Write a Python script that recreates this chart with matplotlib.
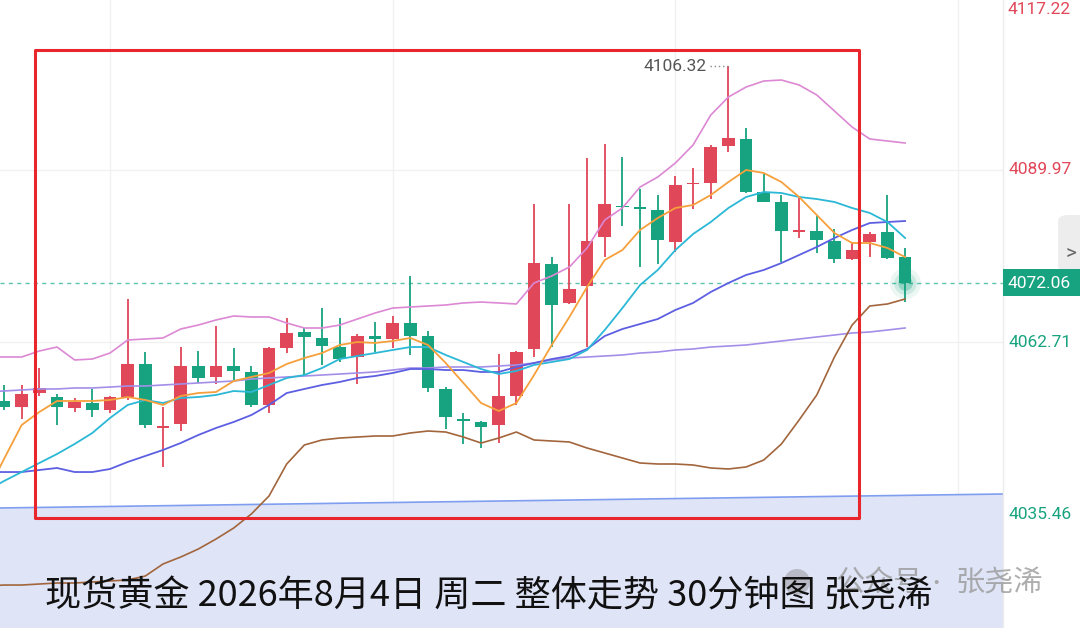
import numpy as np
import matplotlib
matplotlib.use("Agg")
import matplotlib.pyplot as plt
from matplotlib.patches import Rectangle, FancyBboxPatch, Ellipse
from matplotlib.transforms import blended_transform_factory

plt.rcParams['font.family'] = ['Roboto', 'Noto Sans CJK SC', 'DejaVu Sans']

# 30分钟K线: 开 高 低 收
opens = [4053.39, 4052.44, 4054.65, 4054.02, 4052.28, 4053.07, 4051.96, 4054.02, 4059.24, 4049.12,
         4049.75, 4058.93, 4057.19, 4058.93, 4057.98, 4052.76, 4061.78, 4064.31, 4063.36, 4061.93,
         4060.35, 4063.67, 4063.20, 4065.73, 4063.67, 4055.29, 4050.54, 4050.07, 4049.59, 4054.18,
         4061.62, 4075.07, 4068.90, 4071.59, 4079.34, 4084.24, 4084.09, 4083.61, 4078.55, 4087.72,
         4087.88, 4093.74, 4094.85, 4086.46, 4084.88, 4080.13, 4080.29, 4078.71, 4075.86, 4078.55,
         4080.13, 4076.17]
highs = [4055.92, 4055.92, 4058.61, 4054.50, 4053.86, 4055.29, 4054.18, 4069.53, 4061.14, 4052.44,
         4061.93, 4061.30, 4065.26, 4061.78, 4058.93, 4061.90, 4066.52, 4064.94, 4068.10, 4066.52,
         4063.99, 4065.89, 4066.84, 4073.17, 4064.46, 4055.60, 4051.49, 4050.20, 4060.83, 4061.30,
         4084.56, 4076.17, 4084.56, 4091.84, 4094.05, 4092.00, 4086.93, 4085.98, 4088.99, 4090.26,
         4093.90, 4106.32, 4096.59, 4089.31, 4085.98, 4085.51, 4082.66, 4080.60, 4078.55, 4080.13,
         4085.98, 4077.60]
lows = [4051.96, 4050.54, 4054.18, 4049.59, 4051.65, 4050.86, 4051.49, 4053.55, 4049.12, 4042.95,
        4048.64, 4056.24, 4056.08, 4056.71, 4052.44, 4051.49, 4060.98, 4057.50, 4059.09, 4059.56,
        4056.08, 4061.14, 4061.78, 4060.67, 4054.81, 4048.96, 4046.59, 4045.95, 4046.74, 4052.76,
        4060.35, 4061.93, 4068.80, 4061.93, 4076.17, 4081.08, 4074.59, 4075.07, 4076.97, 4083.77,
        4085.35, 4092.79, 4086.30, 4084.80, 4075.38, 4079.18, 4076.81, 4075.22, 4075.70, 4076.17,
        4075.90, 4069.05]
closes = [4052.44, 4054.50, 4055.45, 4052.44, 4053.23, 4051.96, 4054.02, 4059.24, 4049.59, 4049.43,
          4058.93, 4057.03, 4058.93, 4058.14, 4052.76, 4061.78, 4064.15, 4063.52, 4062.09, 4060.03,
          4063.67, 4063.20, 4065.73, 4063.67, 4055.45, 4050.86, 4050.22, 4049.27, 4054.18, 4061.14,
          4075.22, 4068.58, 4071.11, 4078.71, 4084.56, 4084.09, 4083.77, 4078.86, 4087.57, 4087.88,
          4093.58, 4095.00, 4086.46, 4084.88, 4080.29, 4080.45, 4078.86, 4075.86, 4077.28, 4079.81,
          4076.02, 4072.06]

# 均线 / 布林带 (第一个值是画面左边外的一根)
ma5 = [4038.67, 4044.21, 4049.59, 4051.65, 4053.39, 4053.39, 4053.39, 4053.55, 4054.02, 4053.55,
       4052.76, 4054.18, 4054.65, 4054.81, 4056.55, 4057.19, 4057.82, 4059.24, 4060.19, 4060.98,
       4062.25, 4062.72, 4062.57, 4062.88, 4063.36, 4062.25, 4059.40, 4056.24, 4053.07, 4051.81,
       4053.07, 4057.50, 4062.25, 4066.68, 4071.43, 4075.70, 4077.28, 4080.45, 4082.34, 4083.93,
       4084.40, 4085.98, 4088.04, 4089.94, 4089.47, 4088.04, 4085.67, 4082.82, 4079.97, 4078.39,
       4078.39, 4077.60, 4076.17]
ma10 = [4039.15, 4040.73, 4042.15, 4043.58, 4045.00, 4046.59, 4048.33, 4050.70, 4052.76, 4053.55,
        4053.07, 4053.86, 4054.02, 4054.34, 4054.97, 4054.81, 4055.92, 4057.03, 4057.50, 4058.61,
        4060.03, 4060.51, 4060.98, 4061.46, 4061.93, 4061.93, 4060.67, 4059.56, 4058.45, 4057.66,
        4058.14, 4059.09, 4059.56, 4060.03, 4061.46, 4064.62, 4068.10, 4071.74, 4074.12, 4077.28,
        4079.81, 4081.71, 4083.93, 4085.67, 4086.46, 4086.30, 4085.67, 4085.35, 4084.88, 4083.93,
        4083.14, 4081.71, 4079.18]
ma20 = [4042.15, 4042.15, 4042.15, 4042.47, 4042.79, 4042.15, 4042.15, 4042.63, 4043.74, 4044.69,
        4045.64, 4046.74, 4048.01, 4049.12, 4050.07, 4051.17, 4052.76, 4054.65, 4055.29, 4055.92,
        4056.40, 4057.03, 4057.34, 4057.82, 4058.45, 4058.45, 4058.29, 4058.29, 4057.98, 4057.98,
        4058.77, 4059.40, 4060.03, 4060.51, 4061.62, 4063.67, 4064.78, 4065.57, 4066.36, 4067.79,
        4068.90, 4070.64, 4072.06, 4073.33, 4074.12, 4075.22, 4076.49, 4077.76, 4079.18, 4080.45,
        4081.55, 4081.71, 4081.87]
ma60 = [4054.81, 4054.97, 4055.13, 4055.29, 4055.29, 4055.45, 4055.45, 4055.60, 4055.76, 4055.76,
        4055.92, 4056.08, 4056.24, 4056.40, 4056.55, 4056.87, 4057.03, 4057.19, 4057.34, 4057.50,
        4057.66, 4057.82, 4057.98, 4058.29, 4058.61, 4058.61, 4058.77, 4058.77, 4058.77, 4058.93,
        4059.09, 4059.40, 4059.88, 4060.19, 4060.35, 4060.51, 4060.67, 4060.98, 4061.14, 4061.46,
        4061.62, 4061.93, 4062.09, 4062.25, 4062.57, 4062.88, 4063.20, 4063.52, 4063.83, 4064.15,
        4064.31, 4064.62, 4064.94]
boll_up = [4060.35, 4060.35, 4060.35, 4061.30, 4061.93, 4059.88, 4060.03, 4060.98, 4063.04, 4063.20,
           4063.36, 4064.78, 4065.41, 4066.21, 4066.84, 4066.68, 4066.68, 4065.73, 4064.94, 4064.94,
           4065.41, 4066.36, 4067.31, 4068.10, 4068.26, 4068.42, 4068.58, 4068.90, 4069.05, 4068.90,
           4068.74, 4072.06, 4073.17, 4074.59, 4077.60, 4082.03, 4083.93, 4087.25, 4088.83, 4091.05,
           4093.90, 4098.64, 4101.49, 4103.07, 4104.02, 4104.18, 4103.39, 4101.81, 4099.28, 4096.74,
           4094.85, 4094.53, 4094.21]
boll_dn = [4024.12, 4024.27, 4024.27, 4024.43, 4024.59, 4024.59, 4024.75, 4024.91, 4025.07, 4025.70,
           4027.60, 4028.70, 4029.97, 4031.55, 4033.29, 4035.51, 4038.36, 4043.42, 4046.43, 4047.22,
           4047.53, 4047.69, 4047.85, 4047.85, 4048.33, 4048.64, 4048.48, 4047.69, 4046.74, 4047.53,
           4048.48, 4047.22, 4047.06, 4046.90, 4045.95, 4045.16, 4044.37, 4043.58, 4043.42, 4043.42,
           4043.26, 4042.79, 4042.63, 4042.95, 4044.05, 4046.59, 4050.38, 4054.34, 4060.35, 4065.41,
           4068.42, 4068.74, 4069.53]

# 支撑趋势线
trend_idx = [-1, 57]
trend_val = [4036.43, 4038.69]

last_price = 4072.06
peak_price = 4106.32
axis_ticks = [4089.97, 4062.71, 4035.46]
axis_top = 4117.22
title = "现货黄金 2026年8月4日 周二 整体走势 30分钟图 张尧浠"

RED = '#e04758'
GREEN = '#17a37f'
W, H = 1080, 628

fig = plt.figure(figsize=(W / 100, H / 100), dpi=100)
fig.patch.set_facecolor('white')
ax = fig.add_axes([0, 0, 1003 / W, 1])
ax.set_xlim(-0.226, 56.54)
ax.set_ylim(4017.47, 4116.84)
for s in ax.spines.values():
    s.set_visible(False)
ax.set_xticks([])
ax.set_yticks([])

# 淡网格
for t in axis_ticks:
    ax.axhline(t, color='#f1f1f1', lw=1, zorder=0)
for v in [6, 22, 38, 54]:
    ax.axvline(v, color='#f1f1f1', lw=1, zorder=0)

# 趋势线与下方填充
ax.fill_between(trend_idx, trend_val, 4000, color='#dfe4f7', zorder=1, lw=0)
ax.plot(trend_idx, trend_val, color='#7f9ef0', lw=1.2, zorder=2)

# K线
o = np.array(opens); c = np.array(closes)
hi = np.array(highs); lo = np.array(lows)
idx = np.arange(len(o))
cols = [RED if cc >= oo else GREEN for oo, cc in zip(o, c)]
ax.vlines(idx, lo, hi, colors=cols, lw=1.3, zorder=3)
h = np.abs(c - o)
h_eff = np.maximum(h, 0.3)
bottom = np.minimum(o, c) - (h_eff - h) / 2
ax.bar(idx, h_eff, bottom=bottom, width=0.72, color=cols, zorder=4)

# 均线
lx = np.arange(-1, len(o))
ax.plot(lx, ma60, color='#a48ee8', lw=1.2, zorder=5)
ax.plot(lx, boll_up, color='#dc88d4', lw=1.2, zorder=5)
ax.plot(lx, boll_dn, color='#a2653c', lw=1.2, zorder=5)
ax.plot(lx, ma20, color='#5d5fe2', lw=1.3, zorder=5)
ax.plot(lx, ma10, color='#2bb8d6', lw=1.3, zorder=6)
ax.plot(lx, ma5, color='#f6a03c', lw=1.3, zorder=6)

# 现价虚线 + 光点
ax.axhline(last_price, color='#5fc4ab', lw=1, dashes=(3, 3), zorder=2)
for s, a in [(500, 0.08), (260, 0.15), (110, 0.3)]:
    ax.scatter([idx[-1]], [last_price], s=s, color=GREEN, alpha=a, lw=0, zorder=7)

# 最高价标注
ax.text(39.78, peak_price, '4106.32', ha='right', va='center', color='#555555',
        fontsize=12.5, zorder=8)
ax.plot([39.95, 41], [peak_price, peak_price], ls=(0, (1, 2)), color='#888888', lw=1, zorder=8)

# 红框
ax.add_patch(Rectangle((35 / 1003, 1 - 518 / 628), (859 - 35) / 1003, (518 - 50) / 628,
                       transform=ax.transAxes, fill=False, ec='#e8262b', lw=2.2,
                       joinstyle='round', zorder=9))

# 右侧价格轴
fig.add_artist(plt.Line2D([1003 / W, 1003 / W], [0, 1], color='#ececec', lw=1))
tr = blended_transform_factory(ax.transAxes, ax.transData)
for t in axis_ticks:
    col = RED if t > last_price else GREEN
    ax.text(1008 / 1003, t, f'{t:.2f}', transform=tr, color=col, fontsize=12.5,
            va='center', ha='left', clip_on=False)
fig.text(1008 / W, 1 - 10 / H, f'{axis_top:.2f}', color=RED, fontsize=12.5, va='center', ha='left')

fig.add_artist(FancyBboxPatch((1058 / W, 1 - 272 / H), 30 / W, 57 / H,
                              boxstyle='round,pad=0,rounding_size=0.01', fc='#ededed', ec='none'))
fig.text(1071 / W, 1 - 254 / H, '>', color='#666666', fontsize=15, ha='center', va='center')

fig.add_artist(Rectangle((1003 / W, 1 - 296 / H), 77 / W, 27 / H, fc=GREEN, ec='none', zorder=2))
fig.text(1008 / W, 1 - 283 / H, f'{last_price:.2f}', color='white', fontsize=12.5,
         va='center', ha='left', zorder=5)

# 水印
fig.add_artist(Ellipse((797 / W, 1 - 582 / H), 26 / W, 26 / H, fc='#8a8a8a', alpha=0.45, ec='none'))
cjk = ['Noto Sans CJK SC', 'DejaVu Sans']
fig.text(836 / W, 1 - 584 / H, '公众号', family=cjk, fontsize=21, color='#9a9a9a', alpha=0.8,
         va='center', ha='left')
fig.text(936 / W, 1 - 584 / H, '·', family=cjk, fontsize=14, color='#9a9a9a', alpha=0.8,
         va='center', ha='center')
fig.text(955 / W, 1 - 584 / H, '张尧浠', family=cjk, fontsize=21, color='#9a9a9a', alpha=0.8,
         va='center', ha='left')

# 标题
fig.text(45 / W, 1 - 596 / H, title, family=cjk, fontsize=26, color='#111111',
         va='center', ha='left', zorder=6)

fig.savefig('out.png', dpi=100)
